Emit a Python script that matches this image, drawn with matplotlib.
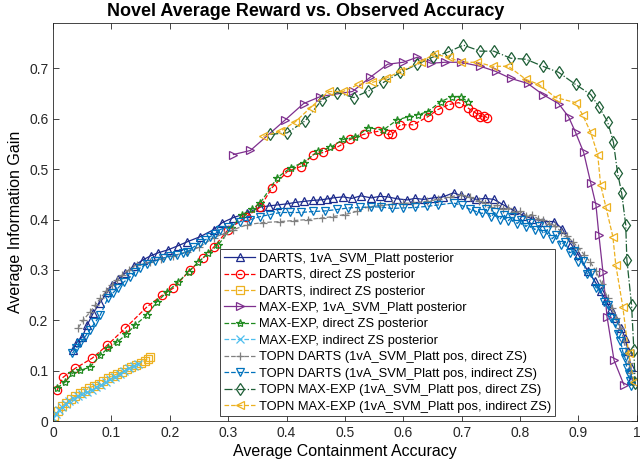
import matplotlib
matplotlib.use('Agg')
import matplotlib.pyplot as plt

plt.rcParams['font.family'] = ['Liberation Sans', 'DejaVu Sans']

# DARTS, 1vA_SVM_Platt posterior
darts_1va_x = [0.034, 0.041, 0.050, 0.058, 0.069, 0.080, 0.093, 0.101, 0.112, 0.124,
               0.138, 0.154, 0.167, 0.180, 0.197, 0.214, 0.230, 0.252, 0.275, 0.290,
               0.309, 0.333, 0.355, 0.370, 0.384, 0.400, 0.415, 0.430, 0.445, 0.458,
               0.470, 0.480, 0.497, 0.512, 0.527, 0.545, 0.560, 0.573, 0.590, 0.607,
               0.620, 0.635, 0.652, 0.668, 0.686, 0.698, 0.710, 0.725, 0.740, 0.755,
               0.770, 0.789, 0.805, 0.820, 0.840, 0.858, 0.872, 0.887, 0.900, 0.916,
               0.928, 0.938, 0.947, 0.955, 0.963, 0.973, 0.980, 0.985, 0.990, 0.990]
darts_1va_y = [0.141, 0.157, 0.167, 0.190, 0.215, 0.235, 0.256, 0.270, 0.282, 0.294,
               0.308, 0.320, 0.328, 0.334, 0.340, 0.348, 0.356, 0.366, 0.380, 0.394,
               0.404, 0.413, 0.425, 0.427, 0.429, 0.431, 0.434, 0.436, 0.438, 0.439,
               0.441, 0.443, 0.445, 0.442, 0.447, 0.443, 0.446, 0.445, 0.441, 0.439,
               0.442, 0.440, 0.443, 0.445, 0.453, 0.448, 0.445, 0.440, 0.442, 0.440,
               0.430, 0.418, 0.408, 0.402, 0.396, 0.396, 0.382, 0.352, 0.330, 0.298,
               0.278, 0.258, 0.240, 0.222, 0.204, 0.185, 0.165, 0.140, 0.107, 0.082]

# DARTS, direct ZS posterior
darts_dir_x = [0.007, 0.017, 0.038, 0.067, 0.093, 0.124, 0.161, 0.187, 0.206, 0.235,
               0.257, 0.275, 0.300, 0.330, 0.355, 0.375, 0.401, 0.424, 0.446, 0.463,
               0.489, 0.509, 0.532, 0.556, 0.573, 0.581, 0.595, 0.617, 0.642, 0.659,
               0.678, 0.695, 0.710, 0.720, 0.726, 0.732, 0.738, 0.744]
darts_dir_y = [0.062, 0.087, 0.105, 0.125, 0.151, 0.185, 0.227, 0.250, 0.264, 0.300,
               0.324, 0.345, 0.380, 0.405, 0.425, 0.463, 0.495, 0.505, 0.529, 0.533,
               0.545, 0.559, 0.569, 0.575, 0.569, 0.569, 0.588, 0.588, 0.604, 0.618,
               0.628, 0.632, 0.622, 0.614, 0.610, 0.604, 0.606, 0.602]

# DARTS, indirect ZS posterior
darts_ind_x = [0.002, 0.008, 0.015, 0.022, 0.030, 0.038, 0.046, 0.054, 0.062, 0.070,
               0.078, 0.086, 0.094, 0.102, 0.110, 0.118, 0.126, 0.134, 0.142, 0.150,
               0.157, 0.162, 0.166]
darts_ind_y = [0.010, 0.020, 0.030, 0.036, 0.044, 0.050, 0.055, 0.060, 0.066, 0.070,
               0.074, 0.080, 0.086, 0.090, 0.094, 0.098, 0.103, 0.108, 0.112, 0.116,
               0.120, 0.124, 0.127]

# MAX-EXP, 1vA_SVM_Platt posterior
maxexp_1va_x = [0.309, 0.338, 0.398, 0.429, 0.458, 0.513, 0.543, 0.573, 0.600, 0.624,
                0.647, 0.672, 0.698, 0.732, 0.758, 0.784, 0.813, 0.839, 0.866, 0.883,
                0.895, 0.909, 0.921, 0.930, 0.935, 0.942, 0.949, 0.961, 0.978]
maxexp_1va_y = [0.529, 0.537, 0.598, 0.630, 0.644, 0.654, 0.682, 0.708, 0.712, 0.722,
                0.710, 0.712, 0.712, 0.704, 0.694, 0.680, 0.670, 0.648, 0.630, 0.604,
                0.573, 0.533, 0.473, 0.429, 0.370, 0.296, 0.207, 0.121, 0.072]

# MAX-EXP, direct ZS posterior
maxexp_dir_x = [0.007, 0.021, 0.033, 0.046, 0.063, 0.081, 0.094, 0.110, 0.125, 0.141,
                0.161, 0.178, 0.195, 0.214, 0.232, 0.249, 0.266, 0.283, 0.305, 0.324,
                0.340, 0.355, 0.384, 0.407, 0.429, 0.453, 0.475, 0.497, 0.518, 0.540,
                0.566, 0.590, 0.609, 0.625, 0.642, 0.664, 0.684, 0.698, 0.710]
maxexp_dir_y = [0.066, 0.078, 0.095, 0.101, 0.107, 0.131, 0.145, 0.157, 0.172, 0.191,
                0.211, 0.237, 0.256, 0.276, 0.296, 0.316, 0.333, 0.350, 0.383, 0.410,
                0.420, 0.433, 0.483, 0.503, 0.513, 0.535, 0.543, 0.559, 0.563, 0.582,
                0.578, 0.598, 0.604, 0.608, 0.614, 0.634, 0.644, 0.644, 0.634]

# MAX-EXP, indirect ZS posterior
maxexp_ind_x = [0.000, 0.005, 0.010, 0.016, 0.022, 0.028, 0.035, 0.042, 0.050, 0.058,
                0.066, 0.074, 0.082, 0.090, 0.098, 0.106, 0.114, 0.122, 0.130, 0.138,
                0.145]
maxexp_ind_y = [0.006, 0.014, 0.022, 0.028, 0.034, 0.040, 0.045, 0.050, 0.054, 0.058,
                0.062, 0.067, 0.072, 0.078, 0.084, 0.088, 0.094, 0.100, 0.105, 0.110,
                0.114]

# TOPN DARTS (1vA_SVM_Platt pos, direct ZS)
topn_darts_dir_x = [0.043, 0.051, 0.063, 0.072, 0.081, 0.091, 0.101, 0.110, 0.118, 0.130,
                    0.144, 0.166, 0.185, 0.205, 0.230, 0.250, 0.275, 0.292, 0.309, 0.333,
                    0.360, 0.389, 0.412, 0.436, 0.460, 0.480, 0.500, 0.520, 0.539, 0.560,
                    0.580, 0.600, 0.617, 0.640, 0.660, 0.680, 0.698, 0.715, 0.730,
                    0.740, 0.750, 0.760, 0.770, 0.780, 0.790, 0.800, 0.810, 0.820, 0.830,
                    0.840, 0.850, 0.860, 0.870, 0.880, 0.890, 0.900, 0.910, 0.920, 0.930,
                    0.940, 0.950, 0.958, 0.965, 0.972, 0.978, 0.983, 0.986, 0.989]
topn_darts_dir_y = [0.185, 0.200, 0.216, 0.230, 0.244, 0.258, 0.270, 0.280, 0.290, 0.300,
                    0.310, 0.316, 0.322, 0.328, 0.336, 0.345, 0.364, 0.372, 0.380, 0.390,
                    0.394, 0.396, 0.398, 0.400, 0.403, 0.406, 0.410, 0.416, 0.425, 0.428,
                    0.430, 0.432, 0.433, 0.436, 0.440, 0.445, 0.449, 0.444, 0.436,
                    0.432, 0.425, 0.428, 0.420, 0.422, 0.414, 0.416, 0.408, 0.410, 0.402,
                    0.400, 0.392, 0.388, 0.376, 0.368, 0.356, 0.344, 0.330, 0.316, 0.298,
                    0.272, 0.245, 0.225, 0.205, 0.185, 0.160, 0.135, 0.115, 0.095]

# TOPN DARTS (1vA_SVM_Platt pos, indirect ZS)
topn_darts_ind_x = [0.033, 0.040, 0.046, 0.055, 0.063, 0.072, 0.081, 0.094, 0.103, 0.111,
                    0.121, 0.132, 0.140, 0.149, 0.160, 0.175, 0.189, 0.201, 0.213, 0.222,
                    0.230, 0.240, 0.252, 0.261, 0.269, 0.278, 0.286, 0.300, 0.321, 0.338,
                    0.355, 0.372, 0.389, 0.405, 0.424, 0.446, 0.465, 0.487, 0.505, 0.525,
                    0.545, 0.561, 0.580, 0.600, 0.620, 0.640, 0.660, 0.686, 0.700, 0.715,
                    0.725,
                    0.735, 0.742, 0.750, 0.757, 0.765, 0.772, 0.780, 0.787, 0.795, 0.802,
                    0.810, 0.817, 0.825, 0.832, 0.840, 0.847, 0.855, 0.862, 0.870, 0.877,
                    0.885, 0.892, 0.900, 0.907, 0.915, 0.922, 0.930, 0.937, 0.944, 0.950,
                    0.956, 0.962, 0.967, 0.972, 0.976, 0.980, 0.983, 0.986, 0.988, 0.990]
topn_darts_ind_y = [0.135, 0.145, 0.155, 0.168, 0.181, 0.196, 0.211, 0.245, 0.255, 0.264,
                    0.276, 0.286, 0.296, 0.304, 0.312, 0.318, 0.324, 0.328, 0.330, 0.333,
                    0.336, 0.345, 0.354, 0.360, 0.366, 0.372, 0.380, 0.386, 0.396, 0.400,
                    0.406, 0.410, 0.414, 0.414, 0.414, 0.416, 0.417, 0.420, 0.423, 0.424,
                    0.425, 0.425, 0.422, 0.423, 0.424, 0.426, 0.429, 0.433, 0.428, 0.420,
                    0.416,
                    0.412, 0.420, 0.405, 0.414, 0.400, 0.410, 0.398, 0.406, 0.392, 0.400,
                    0.386, 0.394, 0.380, 0.388, 0.372, 0.380, 0.362, 0.370, 0.350, 0.356,
                    0.334, 0.338, 0.316, 0.318, 0.292, 0.294, 0.265, 0.262, 0.236, 0.230,
                    0.205, 0.195, 0.172, 0.160, 0.138, 0.125, 0.105, 0.094, 0.080, 0.070]

# TOPN MAX-EXP (1vA_SVM_Platt pos, direct ZS)
topn_maxexp_dir_x = [0.372, 0.401, 0.432, 0.461, 0.487, 0.515, 0.540, 0.566, 0.595, 0.624,
                     0.650, 0.676, 0.703, 0.732, 0.755, 0.784, 0.810, 0.839, 0.866, 0.895,
                     0.921, 0.935, 0.950, 0.960, 0.967, 0.974, 0.981, 0.983, 0.991, 0.995,
                     0.997]
topn_maxexp_dir_y = [0.569, 0.572, 0.596, 0.638, 0.652, 0.642, 0.655, 0.672, 0.692, 0.708,
                     0.722, 0.732, 0.746, 0.734, 0.734, 0.720, 0.718, 0.704, 0.692, 0.668,
                     0.648, 0.624, 0.594, 0.553, 0.493, 0.453, 0.390, 0.320, 0.231, 0.141,
                     0.075]

# TOPN MAX-EXP (1vA_SVM_Platt pos, indirect ZS)
topn_maxexp_ind_x = [0.360, 0.389, 0.415, 0.441, 0.472, 0.497, 0.523, 0.547, 0.570, 0.595,
                     0.630, 0.652, 0.678, 0.698, 0.727, 0.753, 0.780, 0.810, 0.832, 0.861,
                     0.895, 0.907, 0.921, 0.933, 0.938, 0.947, 0.959, 0.964, 0.976, 0.986,
                     0.995]
topn_maxexp_ind_y = [0.565, 0.575, 0.594, 0.622, 0.654, 0.654, 0.668, 0.672, 0.680, 0.694,
                     0.712, 0.728, 0.722, 0.712, 0.712, 0.704, 0.704, 0.678, 0.668, 0.642,
                     0.632, 0.608, 0.573, 0.529, 0.469, 0.425, 0.366, 0.310, 0.227, 0.135,
                     0.078]

labels = ['DARTS, 1vA_SVM_Platt posterior',
          'DARTS, direct ZS posterior',
          'DARTS, indirect ZS posterior',
          'MAX-EXP, 1vA_SVM_Platt posterior',
          'MAX-EXP, direct ZS posterior',
          'MAX-EXP, indirect ZS posterior',
          'TOPN DARTS (1vA_SVM_Platt pos, direct ZS)',
          'TOPN DARTS (1vA_SVM_Platt pos, indirect ZS)',
          'TOPN MAX-EXP (1vA_SVM_Platt pos, direct ZS)',
          'TOPN MAX-EXP (1vA_SVM_Platt pos, indirect ZS)']

series = [(darts_1va_x, darts_1va_y, '#1c2a8c', '-', '^'),
          (darts_dir_x, darts_dir_y, '#ff0000', '--', 'o'),
          (darts_ind_x, darts_ind_y, '#EDB120', '--', 's'),
          (maxexp_1va_x, maxexp_1va_y, '#7E2F8E', '-', '>'),
          (maxexp_dir_x, maxexp_dir_y, '#1f8a1f', '--', '*'),
          (maxexp_ind_x, maxexp_ind_y, '#4DBEEE', '--', 'x'),
          (topn_darts_dir_x, topn_darts_dir_y, '#808080', '--', '+'),
          (topn_darts_ind_x, topn_darts_ind_y, '#0072BD', '--', 'v'),
          (topn_maxexp_dir_x, topn_maxexp_dir_y, '#1e5e36', '-.', 'd'),
          (topn_maxexp_ind_x, topn_maxexp_ind_y, '#EDB120', '--', '<')]

fig = plt.figure(figsize=(6.4, 4.68), dpi=100)
ax = fig.add_axes([0.083, 0.1, 0.912, 0.851])

for (x, y, c, ls, mk), lab in zip(series, labels):
    ax.plot(x, y, color=c, linestyle=ls, marker=mk, markersize=6,
            markerfacecolor='none', markeredgewidth=0.9, linewidth=0.9, label=lab)

ax.set_xlim(0, 1)
ax.set_ylim(0, 0.79)
ax.set_xticks([i / 10 for i in range(11)])
ax.set_xticklabels(['0', '0.1', '0.2', '0.3', '0.4', '0.5', '0.6', '0.7', '0.8', '0.9', '1'])
ax.set_yticks([i / 10 for i in range(8)])
ax.set_yticklabels(['0', '0.1', '0.2', '0.3', '0.4', '0.5', '0.6', '0.7'])
ax.tick_params(direction='in', top=True, right=True, length=4, width=0.6,
               labelsize=10, colors='#262626')
for s in ax.spines.values():
    s.set_linewidth(0.6)
    s.set_color('#262626')

ax.set_title('Novel Average Reward vs. Observed Accuracy', fontsize=13,
             fontweight='bold', pad=5, x=0.433)
ax.set_xlabel('Average Containment Accuracy', fontsize=11.5, labelpad=3)
ax.set_ylabel('Average Information Gain', fontsize=11.5, labelpad=4)

leg = ax.legend(loc='lower right', bbox_to_anchor=(0.86, 0.012), fontsize=9.3,
                labelspacing=0.34, handlelength=2.4, handletextpad=0.3,
                borderpad=0.3, fancybox=False, framealpha=1, borderaxespad=0)
leg.get_frame().set_edgecolor('#262626')
leg.get_frame().set_linewidth(0.6)

fig.savefig('out.png', dpi=100)
